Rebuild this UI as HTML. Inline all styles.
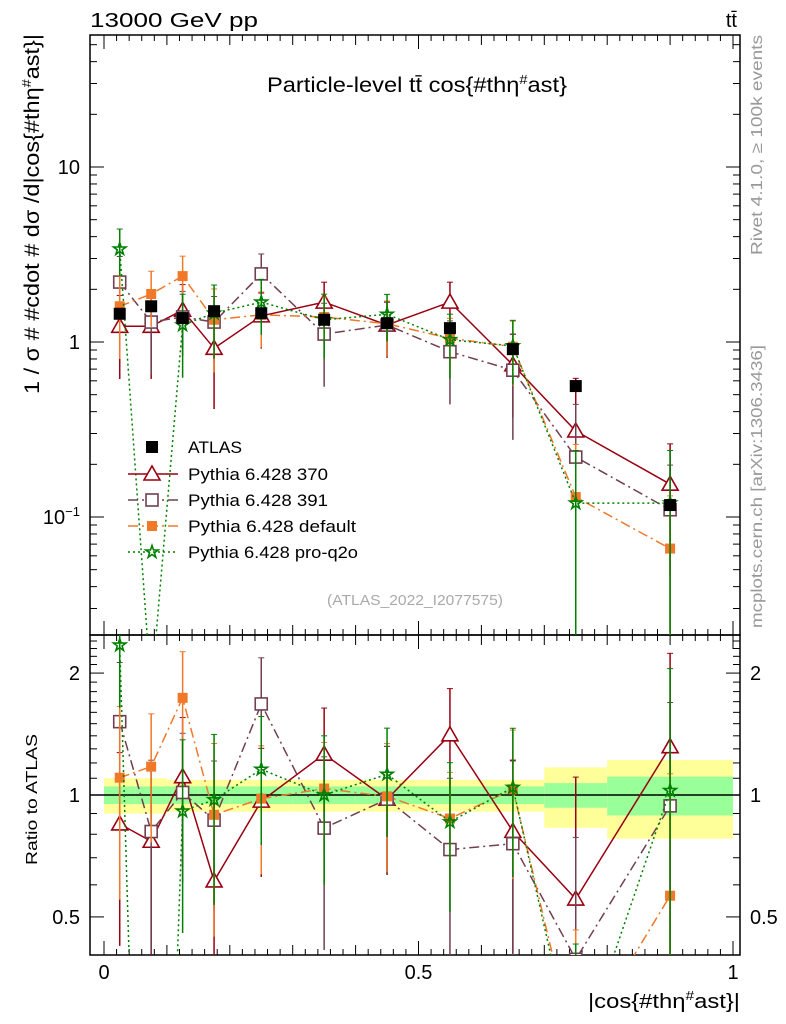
<!DOCTYPE html>
<html><head><meta charset="utf-8"><style>
html,body{margin:0;padding:0;background:#fff;overflow:hidden;width:786px;height:1024px;}
svg{display:block;}
svg text{font-family:"Liberation Sans",sans-serif;}
</style></head><body>
<svg id="c" width="786" height="1024" xmlns="http://www.w3.org/2000/svg">
<defs>
<clipPath id="cm"><rect x="90" y="35" width="650" height="600"/></clipPath>
<clipPath id="cr"><rect x="90" y="635" width="650" height="320"/></clipPath>
</defs>
<text x="90" y="27" font-size="20" textLength="168" lengthAdjust="spacingAndGlyphs">13000 GeV pp</text>
<text x="737" y="27" font-size="20" text-anchor="end">tt̄</text>
<text x="267" y="92" font-size="21" textLength="300" lengthAdjust="spacingAndGlyphs">Particle-level tt̄ cos{#thη<tspan font-size="13" dy="-8">#</tspan><tspan dy="8">ast}</tspan></text>
<text transform="translate(39,394) rotate(-90)" font-size="21" textLength="360" lengthAdjust="spacingAndGlyphs">1 / σ # #cdot # dσ /d|cos{#thη<tspan font-size="13" dy="-8">#</tspan><tspan dy="8">ast}|</tspan></text>
<text transform="translate(37,865) rotate(-90)" font-size="16" textLength="131" lengthAdjust="spacingAndGlyphs">Ratio to ATLAS</text>
<text x="588" y="1008" font-size="20" textLength="152" lengthAdjust="spacingAndGlyphs">|cos{#thη<tspan font-size="13" dy="-8">#</tspan><tspan dy="8">ast}|</tspan></text>
<text transform="translate(762,255) rotate(-90)" font-size="16" fill="#999" textLength="220" lengthAdjust="spacingAndGlyphs">Rivet 4.1.0, ≥ 100k events</text>
<text transform="translate(762,628) rotate(-90)" font-size="16" fill="#999" textLength="283" lengthAdjust="spacingAndGlyphs">mcplots.cern.ch [arXiv:1306.3436]</text>
<text x="327" y="605" font-size="15" fill="#aaa" textLength="176" lengthAdjust="spacingAndGlyphs">(ATLAS_2022_I2077575)</text>
<g id="g"></g>
</svg>
<script>
const edges=[0,0.05,0.1,0.15,0.2,0.3,0.4,0.5,0.6,0.7,0.8,1.0];
const centers=[0.025,0.075,0.125,0.175,0.25,0.35,0.45,0.55,0.65,0.75,0.9];
const atlas=[1.45,1.6,1.37,1.5,1.46,1.34,1.28,1.2,0.91,0.56,0.117];
const bandStat=[0.05,0.05,0.05,0.05,0.05,0.05,0.05,0.05,0.05,0.07,0.11];
const bandTot=[0.10,0.10,0.09,0.09,0.09,0.09,0.09,0.09,0.09,0.17,0.22];
const p370=[1.23,1.23,1.52,0.92,1.41,1.69,1.25,1.69,0.74,0.31,0.154];
const e370=[0.5,0.5,0.4,0.55,0.35,0.3,0.35,0.3,0.5,1.0,0.7];
const p391=[2.2,1.3,1.39,1.3,2.45,1.11,1.25,0.88,0.69,0.22,0.11];
const e391=[0.4,0.5,0.4,0.4,0.3,0.5,0.35,0.5,0.6,1.0,0.8];
const pdef=[1.6,1.88,2.38,1.34,1.43,1.39,1.27,1.05,0.94,0.13,0.066];
const edef=[0.5,0.35,0.3,0.5,0.35,0.3,0.35,0.3,0.4,1.0,1.0];
const pq2o=[3.4,0.01,1.25,1.46,1.69,1.34,1.44,1.03,0.95,0.12,0.12];
const eq2o=[0.3,1.0,0.5,0.45,0.35,0.4,0.3,0.4,0.4,1.0,1.0];
const NS="http://www.w3.org/2000/svg";
const g=document.getElementById('g');
const X=v=>104+v*629;
const Y=v=>342-175*Math.log10(Math.max(v,1e-6));
const R=v=>795-405*Math.log10(Math.max(v,1e-6));
function el(t,a,p){const e=document.createElementNS(NS,t);for(const k in a)e.setAttribute(k,a[k]);(p||g).appendChild(e);return e;}
const fm=el('rect',{x:90,y:35,width:650,height:600,fill:'none',stroke:'#000','stroke-width':1.5});


const fr=el('rect',{x:90,y:635,width:650,height:320,fill:'none',stroke:'#000','stroke-width':1.5});


for(let d=-2;d<=1;d++)for(let m=1;m<10;m++){const v=m*Math.pow(10,d);const y=Y(v);if(y<35||y>635)continue;const L=m==1?14:7;
el('line',{x1:90,x2:90+L,y1:y,y2:y,stroke:'#000'});el('line',{x1:740,x2:740-L,y1:y,y2:y,stroke:'#000'});}
const yl=[["10",10],["1",1]];
yl.forEach(t=>{const e=el('text',{x:80,y:Y(t[1])+7,'font-size':20,'text-anchor':'end'});e.textContent=t[0];});
const e1=el('text',{x:80,y:Y(0.1)+7,'font-size':20,'text-anchor':'end'});e1.innerHTML='10<tspan font-size="13" dy="-8">−1</tspan>';


for(let v=0.4;v<=2.5;v+=0.1){const y=R(v);if(y<635||y>955)continue;const major=Math.abs(v-0.5)<1e-6||Math.abs(v-1)<1e-6||Math.abs(v-2)<1e-6;const L=major?14:7;
el('line',{x1:90,x2:90+L,y1:y,y2:y,stroke:'#000'});el('line',{x1:740,x2:740-L,y1:y,y2:y,stroke:'#000'});}
const rl=[["2",2],["1",1],["0.5",0.5]];
rl.forEach(t=>{[80,750].forEach(x=>{const e=el('text',{x:x,y:R(t[1])+7,'font-size':20,'text-anchor':x<100?'end':'start'});e.textContent=t[0];

});});
for(let i=0;i<=50;i++){const v=i*0.02;if(v>1.0001)break;const x=X(v);const major=i%25==0;const mid=i%5==0;const L=major?14:(mid?10:6);
el('line',{x1:x,x2:x,y1:955,y2:955-L,stroke:'#000'});el('line',{x1:x,x2:x,y1:635,y2:635-L,stroke:'#000'});el('line',{x1:x,x2:x,y1:635,y2:635+L,stroke:'#000'});el('line',{x1:x,x2:x,y1:35,y2:35+L,stroke:'#000'});}
const xl=[["0",0],["0.5",0.5],["1",1]];
xl.forEach(t=>{const e=el('text',{x:X(t[1]),y:979,'font-size':20,'text-anchor':'middle'});e.textContent=t[0];

});
const gr=el('g',{'clip-path':'url(#cr)'});
for(let i=0;i<centers.length;i++){const x0=X(edges[i]),x1=X(edges[i+1]);
const b1=el('rect',{x:x0,width:x1-x0,y:R(1+bandTot[i]),height:R(1-bandTot[i])-R(1+bandTot[i]),fill:'#ffff99'},gr);


const b2=el('rect',{x:x0,width:x1-x0,y:R(1+bandStat[i]),height:R(1-bandStat[i])-R(1+bandStat[i]),fill:'#99ff99'},gr);

}
el('line',{x1:90,x2:740,y1:R(1),y2:R(1),stroke:'#000','stroke-width':1.5},gr);
const gm=el('g',{'clip-path':'url(#cm)'});
function marker(par,type,x,y,col){let e;
if(type=='tri')e=el('path',{d:`M${x},${y-8}L${x+8},${y+6}L${x-8},${y+6}Z`,fill:'#fff',stroke:col,'stroke-width':1.6},par);
else if(type=='osq')e=el('rect',{x:x-6,y:y-6,width:12,height:12,fill:'#fff',stroke:col,'stroke-width':1.6},par);
else if(type=='fsq')e=el('rect',{x:x-5,y:y-5,width:10,height:10,fill:col},par);
else if(type=='bsq')e=el('rect',{x:x-6,y:y-6,width:12,height:12,fill:col},par);
else{let p='';for(let k=0;k<10;k++){const r=k%2?2.5:6.5,a=-Math.PI/2+k*Math.PI/5;p+=(k?'L':'M')+(x+r*Math.cos(a)).toFixed(1)+','+(y+r*Math.sin(a)).toFixed(1);}e=el('path',{d:p+'Z',fill:'none',stroke:col,'stroke-width':1.6},par);}
return e;}
const series=[
{n:'pythia-370',v:p370,e:e370,c:'#990011',d:'',m:'tri'},
{n:'pythia-391',v:p391,e:e391,c:'#704050',d:'10,4,2,4',m:'osq'},
{n:'pythia-default',v:pdef,e:edef,c:'#f07828',d:'10,4,2,4',m:'fsq'},
{n:'pythia-pro-q2o',v:pq2o,e:eq2o,c:'#008000',d:'2,3',m:'star'}];
series.forEach(s=>{
[[gm,Y,1],[gr,R,0]].forEach(([par,F,main])=>{
const val=i=>main?s.v[i]:s.v[i]/atlas[i];
const pts=centers.map((c,i)=>X(c).toFixed(1)+','+F(val(i)).toFixed(1)).join(' ');
const pl=el('polyline',{points:pts,fill:'none',stroke:s.c,'stroke-width':1.5,'stroke-dasharray':s.d},par);


centers.forEach((c,i)=>{const v=val(i),x=X(c);const lo=v*Math.max(1-s.e[i],0.001),hi=v*(1+s.e[i]);
const eb=el('line',{x1:x,x2:x,y1:F(hi),y2:F(lo),stroke:s.c,'stroke-width':1.5},par);


el('line',{x1:x-3,x2:x+3,y1:F(hi),y2:F(hi),stroke:s.c},par);
const mk=marker(par,s.m,x,F(v),s.c);

});});});
centers.forEach((c,i)=>{const mk=marker(gm,'bsq',X(c),Y(atlas[i]),'#000');

});
const leg=[['ATLAS','#000','','bsq',false,54],['Pythia 6.428 370','#990011','','tri',true,140],['Pythia 6.428 391','#704050','10,4,2,4','osq',true,140],['Pythia 6.428 default','#f07828','10,4,2,4','fsq',true,168],['Pythia 6.428 pro-q2o','#008000','2,3','star',true,170]];
const ly=[447,474,500,526,552];
leg.forEach((l,i)=>{const y=ly[i];
if(l[4])el('line',{x1:128,x2:178,y1:y,y2:y,stroke:l[1],'stroke-width':1.5,'stroke-dasharray':l[2]});
marker(g,l[3],152,y,l[1]);
const t=el('text',{x:188,y:y+6,'font-size':17,textLength:l[5],lengthAdjust:'spacingAndGlyphs'});t.textContent=l[0];

});
</script>
</body></html>
